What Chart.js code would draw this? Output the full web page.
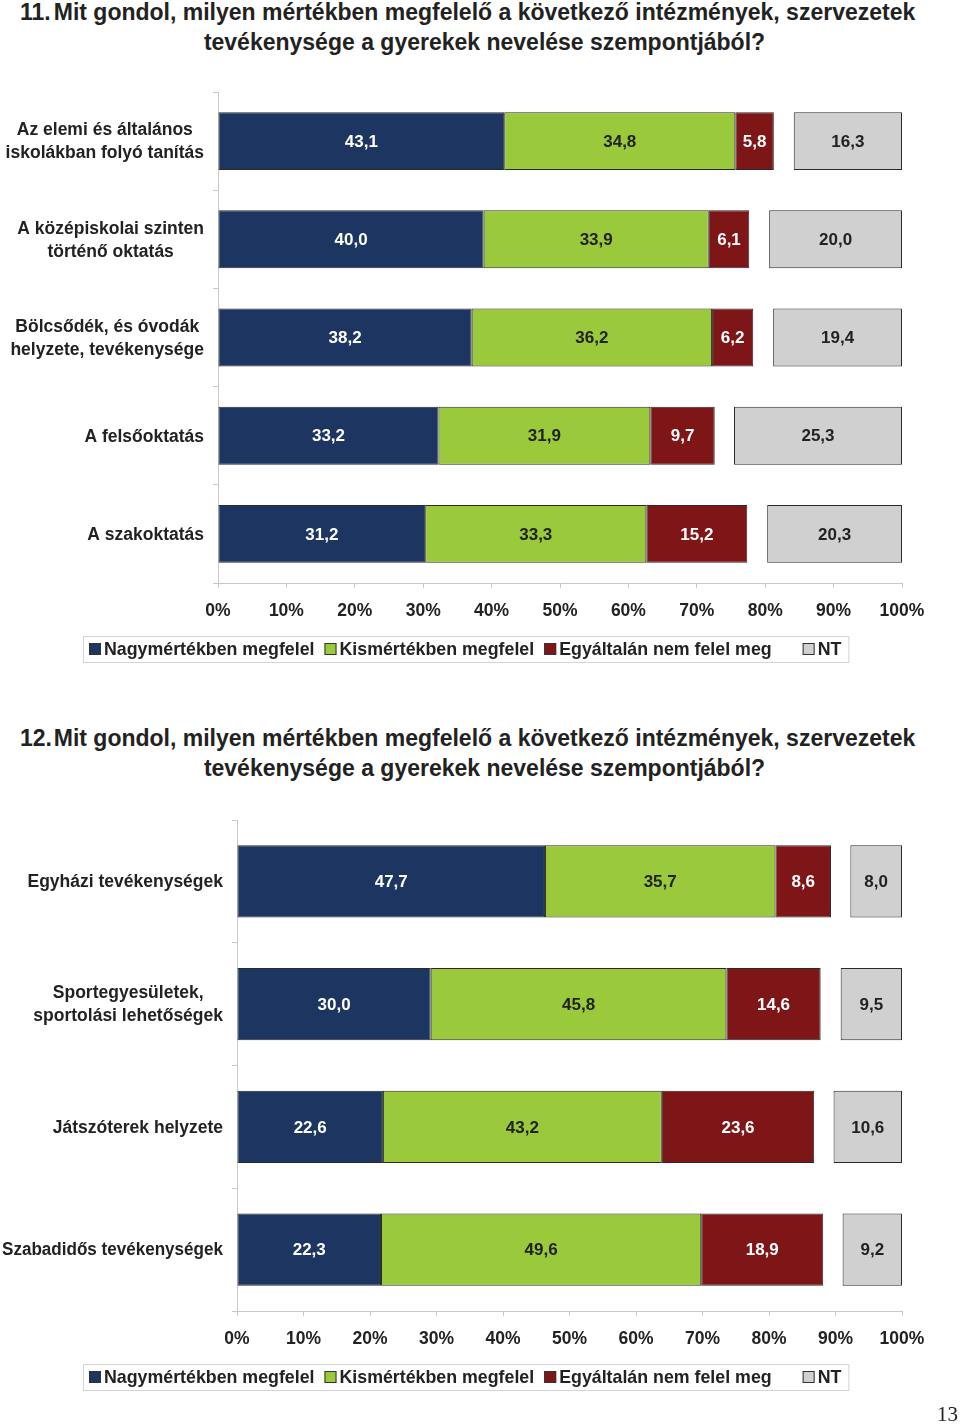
<!DOCTYPE html>
<html lang="hu">
<head>
<meta charset="UTF-8">
<title>Intézmények, szervezetek tevékenysége</title>
<script src="https://cdn.jsdelivr.net/npm/chart.js"></script>
<style>
    body { margin: 0; background: #fff; width: 960px; height: 1425px; position: relative; overflow: hidden;
           font-family: "Liberation Sans", Arial, sans-serif; color: #222; }
    .title { position: absolute; left: 0; width: 960px; font-weight: bold; font-size: 23px; line-height: 30px; }
    .title .num { position: absolute; left: 20px; top: 0; }
    .title .txt { position: absolute; left: 53px; width: 863px; text-align: center; white-space: nowrap; }
    .box { position: absolute; left: 0; width: 960px; height: 600px; }
    #page { position: absolute; left: 937px; top: 1402px; font-family: "Liberation Serif", "DejaVu Serif", serif; font-size: 21px; }
</style>
</head>
<body>
<div class="title" style="top:-3px"><span class="num">11.</span><div class="txt">Mit gondol, milyen mértékben megfelelő a következő intézmények, szervezetek<br>tevékenysége a gyerekek nevelése szempontjából?</div></div>
<div class="box" style="top:80px"><canvas id="chart1"></canvas></div>

<div class="title" style="top:723px"><span class="num">12.</span><div class="txt">Mit gondol, milyen mértékben megfelelő a következő intézmények, szervezetek<br>tevékenysége a gyerekek nevelése szempontjából?</div></div>
<div class="box" style="top:808px"><canvas id="chart2"></canvas></div>

<div id="page">13</div>

<script>
    // values (percent)
    const seriesNames = ['Nagymértékben megfelel', 'Kismértékben megfelel', 'Egyáltalán nem felel meg', 'NT'];
    const xTickLabels = ['0%', '10%', '20%', '30%', '40%', '50%', '60%', '70%', '80%', '90%', '100%'];

    const cats1 = [['Az elemi és általános', 'iskolákban folyó tanítás'], ['A középiskolai szinten', 'történő oktatás'],
                   ['Bölcsődék, és óvodák', 'helyzete, tevékenysége'], 'A felsőoktatás', 'A szakoktatás'];
    const nagy1 = [43.1, 40.0, 38.2, 33.2, 31.2];
    const kis1 = [34.8, 33.9, 36.2, 31.9, 33.3];
    const egyalt1 = [5.8, 6.1, 6.2, 9.7, 15.2];
    const nt1 = [16.3, 20.0, 19.4, 25.3, 20.3];

    const cats2 = ['Egyházi tevékenységek', ['Sportegyesületek,', 'sportolási lehetőségek'], 'Játszóterek helyzete', 'Szabadidős tevékenységek'];
    const nagy2 = [47.7, 30.0, 22.6, 22.3];
    const kis2 = [35.7, 45.8, 43.2, 49.6];
    const egyalt2 = [8.6, 14.6, 23.6, 18.9];
    const nt2 = [8.0, 9.5, 10.6, 9.2];

    // the original stacks an empty gap before NT, so the axis runs a bit past 100
    const AXIS_MAX = 103;

    const colors = ['#1d3661', '#9bc93c', '#7e1618', '#d0d0d0'];
    const labelColors = ['#fff', '#222', '#fff', '#222'];
    const FONT = '"Liberation Sans", Arial, sans-serif';

    const valueLabels = {
        id: 'valueLabels',
        afterDatasetsDraw(chart) {
            const ctx = chart.ctx;
            ctx.save();
            ctx.font = 'bold 17px ' + FONT;
            ctx.textAlign = 'center';
            ctx.textBaseline = 'middle';
            chart.data.datasets.forEach((ds, di) => {
                if (ds.isGap) return;
                chart.getDatasetMeta(di).data.forEach((bar, i) => {
                    const p = bar.getProps(['x', 'y', 'base'], true);
                    ctx.fillStyle = ds.textColor;
                    ctx.fillText(ds.data[i].toFixed(1).replace('.', ','), (p.x + p.base) / 2, p.y + 1);
                });
            });
            ctx.restore();
        }
    };

    // category labels: block right-aligned to the axis, lines centred inside it
    const catLabels = {
        id: 'catLabels',
        afterDraw(chart) {
            const ctx = chart.ctx;
            const ys = chart.scales.y;
            const right = chart.chartArea.left - 14;
            const room = right - 2;
            ctx.save();
            ctx.font = 'bold 17.5px ' + FONT;
            ctx.fillStyle = '#222';
            ctx.textAlign = 'center';
            ctx.textBaseline = 'middle';
            chart.data.labels.forEach((lab, i) => {
                const lines = Array.isArray(lab) ? lab : [lab];
                const w = Math.min(room, Math.max(...lines.map(l => ctx.measureText(l).width)));
                const y = ys.getPixelForTick(i);
                lines.forEach((l, k) => {
                    ctx.fillText(l, right - w / 2, y + (k - (lines.length - 1) / 2) * 23 + 1, room);
                });
            });
            ctx.restore();
        }
    };

    // legend box under the axis, like the Excel one (wider gap before NT)
    const boxLegend = {
        id: 'boxLegend',
        afterDraw(chart) {
            const ctx = chart.ctx;
            const top = chart.chartArea.bottom + 53;
            const gaps = [10, 10, 31, 0];
            ctx.save();
            ctx.font = 'bold 17.8px ' + FONT;
            ctx.textBaseline = 'middle';
            let x = 89;
            seriesNames.forEach((name, i) => {
                ctx.fillStyle = colors[i];
                ctx.fillRect(x, top + 7, 12, 12);
                ctx.strokeStyle = '#333';
                ctx.lineWidth = 1;
                ctx.strokeRect(x + 0.5, top + 7.5, 11, 11);
                ctx.fillStyle = '#222';
                ctx.textAlign = 'left';
                ctx.fillText(name, x + 15, top + 14);
                x += 15 + ctx.measureText(name).width + gaps[i];
            });
            ctx.strokeStyle = '#d4d4d4';
            ctx.strokeRect(83.5, top + 0.5, x - 83 + 7, 26);
            ctx.restore();
        }
    };

    function makeChart(id, cats, a, b, c, nt, yWidth) {
        const gap = a.map((v, i) => AXIS_MAX - v - b[i] - c[i] - nt[i]);
        const ds = (label, data, i) => ({
            label, data, backgroundColor: colors[i], textColor: labelColors[i],
            borderColor: '#2a2a2a', borderWidth: 1, borderSkipped: false
        });
        return new Chart(document.getElementById(id), {
            type: 'bar',
            data: {
                labels: cats,
                datasets: [
                    ds(seriesNames[0], a, 0),
                    ds(seriesNames[1], b, 1),
                    ds(seriesNames[2], c, 2),
                    { label: 'gap', data: gap, backgroundColor: 'rgba(0,0,0,0)', borderWidth: 0, isGap: true },
                    ds(seriesNames[3], nt, 3)
                ]
            },
            options: {
                indexAxis: 'y',
                responsive: true,
                maintainAspectRatio: false,
                animation: false,
                datasets: { bar: { categoryPercentage: 1, barPercentage: 0.59 } },
                layout: { padding: { top: 12, right: 58, bottom: 57, left: 0 } },
                plugins: { legend: { display: false }, tooltip: { enabled: false } },
                scales: {
                    x: {
                        type: 'linear', stacked: true, min: 0, max: AXIS_MAX,
                        grid: { drawOnChartArea: false, tickLength: 5, color: '#c8c8c8' },
                        border: { color: '#c8c8c8' },
                        ticks: {
                            padding: 13, color: '#222', font: { family: FONT, size: 17.5, weight: 'bold' },
                            maxRotation: 0, autoSkip: false,
                            callback: (v, i) => xTickLabels[i]
                        },
                        afterBuildTicks(s) {
                            s.ticks = xTickLabels.map((_, i) => ({ value: i * AXIS_MAX / (xTickLabels.length - 1) }));
                        },
                        afterFit(s) { s.height = 40; }
                    },
                    y: {
                        stacked: true,
                        grid: { drawOnChartArea: false, offset: true, tickLength: 5, color: '#c8c8c8' },
                        border: { color: '#c8c8c8' },
                        ticks: { display: false },
                        afterFit(s) { s.width = yWidth; s.paddingTop = 0; s.paddingBottom = 0; }
                    }
                }
            },
            plugins: [valueLabels, catLabels, boxLegend]
        });
    }

    makeChart('chart1', cats1, nagy1, kis1, egyalt1, nt1, 218);
    makeChart('chart2', cats2, nagy2, kis2, egyalt2, nt2, 237);
</script>
</body>
</html>
